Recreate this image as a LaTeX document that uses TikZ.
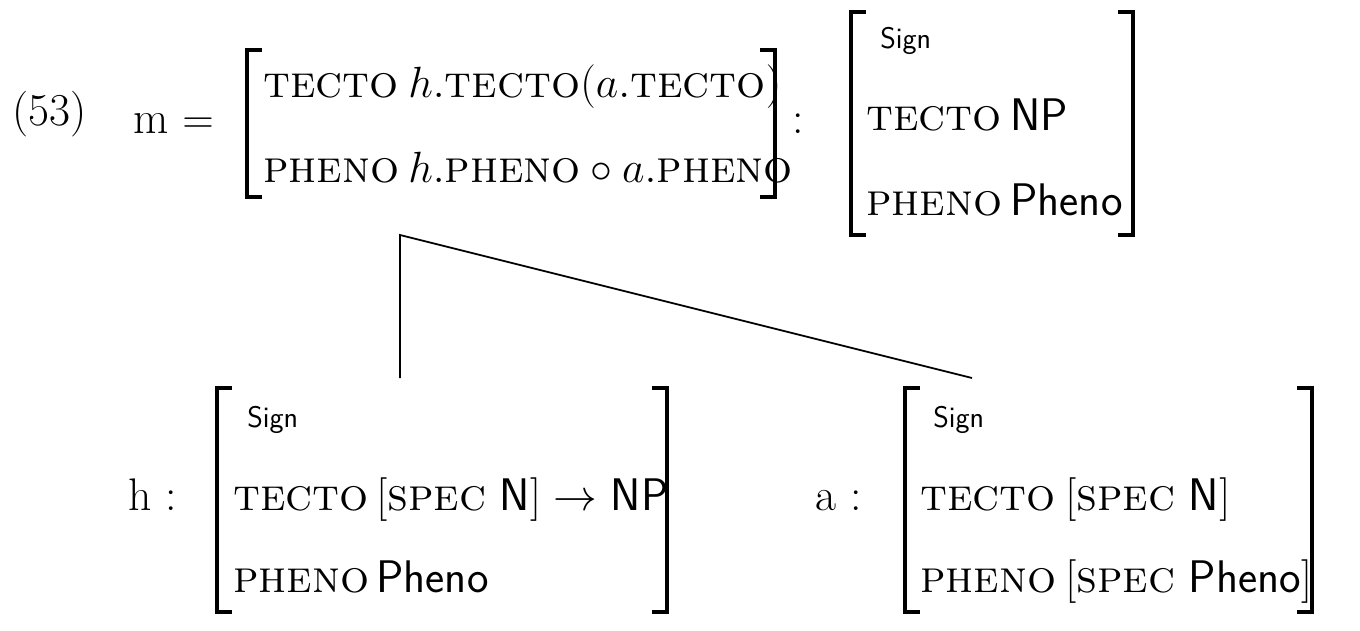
\documentclass[tikz,border=0pt]{standalone}
\usepackage{amsmath}
\begin{document}
\begin{tikzpicture}[x=0.02cm,y=-0.02cm,
  t/.style={anchor=base west,inner sep=0pt,font=\fontsize{26}{30}\selectfont},
  sg/.style={anchor=base west,inner sep=0pt,font=\fontsize{17}{20}\selectfont\sffamily},
  br/.style={line width=1.8pt},
  edge/.style={line width=1pt}]
\useasboundingbox (0,0) rectangle (1360,630);
\newcommand{\lbr}[4]{\draw[br] (#1+15,#2) -- (#1,#2) -- (#1,#3) -- (#1+15,#3);
  \draw[br] (#4-15,#2) -- (#4,#2) -- (#4,#3) -- (#4-15,#3);}
% top
\node[t] (num) at (12,125) {(53)};
\node[t] (m) at (133,133) {m $=$};
\lbr{247}{50}{197}{775}
\node[t] (t1) at (263,97) {\textsc{tecto}};
\node[t] (v1) at (408,97) {$h.\text{\textsc{tecto}}(a.\text{\textsc{tecto}})$};
\node[t] (p1) at (263,182) {\textsc{pheno}};
\node[t] (w1) at (408,182) {$h.\text{\textsc{pheno}}\circ a.\text{\textsc{pheno}}$};
\node[t] (col) at (792,133) {:};
\lbr{851}{12}{235}{1133}
\node[sg] (s1) at (880,48) {Sign};
\node[t] (t2) at (866,130) {\textsc{tecto}};
\node[t] (v2) at (1010,130) {\textsf{NP}};
\node[t] (p2) at (866,215) {\textsc{pheno}};
\node[t] (w2) at (1010,215) {\textsf{Pheno}};
% tree
\coordinate (top) at (400,235);
\coordinate (hl) at (400,378);
\coordinate (al) at (972,378);
\draw[edge] (hl) -- (top) -- (al);
% h
\node[t] (h) at (128,510) {h :};
\lbr{217}{388}{612}{667}
\node[sg] (s3) at (247,427) {Sign};
\node[t] (t3) at (233,510) {\textsc{tecto}};
\node[t] (v3) at (376,510) {$[$\textsc{spec} \textsf{N}$]\rightarrow$ \textsf{NP}};
\node[t] (p3) at (233,592) {\textsc{pheno}};
\node[t] (w3) at (376,592) {\textsf{Pheno}};
% a
\node[t] (a) at (815,510) {a :};
\lbr{905}{388}{612}{1312}
\node[sg] (s4) at (933,427) {Sign};
\node[t] (t4) at (920,510) {\textsc{tecto}};
\node[t] (v4) at (1065,510) {$[$\textsc{spec} \textsf{N}$]$};
\node[t] (p4) at (920,592) {\textsc{pheno}};
\node[t] (w4) at (1065,592) {$[$\textsc{spec} \textsf{Pheno}$]$};
\end{tikzpicture}
\end{document}
